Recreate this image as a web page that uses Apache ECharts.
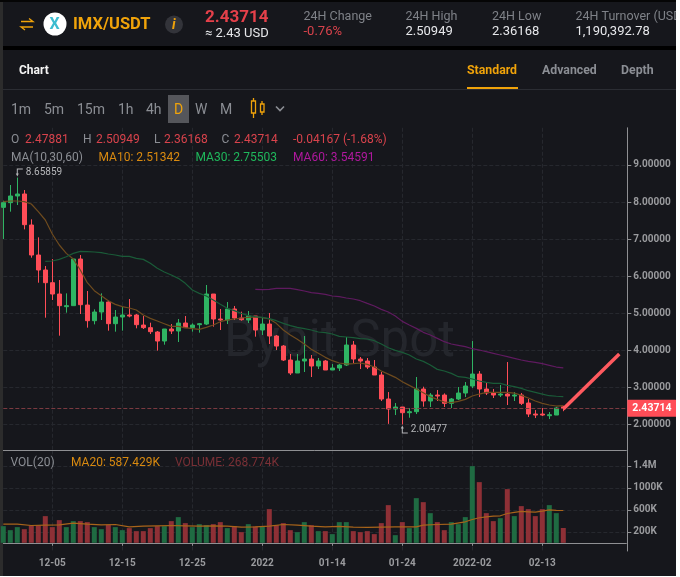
<!DOCTYPE html>
<html><head><meta charset="utf-8">
<style>html,body{margin:0;padding:0;background:#fff}#c{width:676px;height:576px}</style>
<script src="https://cdn.jsdelivr.net/npm/echarts@6/dist/echarts.min.js"></script>
</head><body><div id="c"></div>
<script>
const dates=['11-28','11-29','11-30','12-01','12-02','12-03','12-04','12-05','12-06','12-07','12-08','12-09','12-10','12-11','12-12','12-13','12-14','12-15','12-16','12-17','12-18','12-19','12-20','12-21','12-22','12-23','12-24','12-25','12-26','12-27','12-28','12-29','12-30','12-31','01-01','01-02','01-03','01-04','01-05','01-06','01-07','01-08','01-09','01-10','01-11','01-12','01-13','01-14','01-15','01-16','01-17','01-18','01-19','01-20','01-21','01-22','01-23','01-24','01-25','01-26','01-27','01-28','01-29','01-30','01-31','02-01','02-02','02-03','02-04','02-05','02-06','02-07','02-08','02-09','02-10','02-11','02-12','02-13','02-14','02-15','02-16','02-17','02-18','02-19','02-20','02-21','02-22','02-23','02-24','02-25'];
const tickLabels={7:'12-05',17:'12-15',27:'12-25',37:'2022',47:'01-14',57:'01-24',67:'2022-02',77:'02-13'};
// open, close, low, high
const candles=[
[7.856,7.982,7.003,8.036],[7.982,8.162,7.739,8.458],[8.162,8.216,7.919,8.65859],[8.216,7.389,7.263,8.323],[7.380,6.571,6.499,7.533],[6.571,6.167,5.825,7.048],[6.167,5.825,4.882,6.275],[5.825,5.520,5.358,6.463],[5.520,5.206,4.397,5.897],[5.179,5.206,5.017,5.538],
[5.206,6.463,5.206,6.463],[6.463,5.232,4.981,6.571],[5.223,4.801,4.613,5.601],[4.801,5.035,4.702,5.107],[5.035,5.304,4.819,5.538],[5.304,4.720,4.532,5.340],[4.720,4.900,4.505,5.089],[4.900,4.954,4.532,5.170],[4.954,4.927,4.891,5.385],[4.954,4.693,4.595,4.981],
[4.684,4.613,4.577,4.927],[4.613,4.505,4.442,4.747],[4.496,4.253,3.993,4.523],[4.253,4.577,4.154,4.577],[4.577,4.523,4.442,4.711],[4.523,4.738,4.226,4.846],[4.738,4.613,4.613,4.927],[4.613,4.684,4.505,4.729],[4.693,4.720,4.478,4.738],[4.711,5.520,4.684,5.763],
[5.520,4.846,4.640,5.520],[4.846,4.819,4.550,5.116],[4.819,5.116,4.711,5.304],[5.116,4.873,4.819,5.197],[4.873,4.828,4.801,5.044],[4.819,4.927,4.738,5.062],[4.927,4.550,4.370,4.927],[4.550,4.711,4.415,4.900],[4.711,4.388,4.172,5.008],[4.388,4.118,4.011,4.415],
[4.118,3.741,3.714,4.145],[3.741,3.391,3.337,3.903],[3.391,3.714,3.391,3.903],[3.714,3.768,3.418,4.388],[3.768,3.579,3.283,3.876],[3.579,3.714,3.498,3.795],[3.714,3.472,3.472,3.741],[3.472,3.525,3.472,3.633],[3.525,3.606,3.445,3.633],[3.606,4.145,3.579,4.361],
[4.145,3.768,3.660,4.253],[3.768,3.714,3.498,3.822],[3.714,3.552,3.498,3.795],[3.552,3.337,3.337,3.741],[3.337,2.690,2.636,3.418],[2.690,2.420,2.02,2.878],[2.420,2.474,2.258,2.582],[2.474,2.321,2.00477,2.474],[2.321,2.348,2.186,2.447],[2.348,2.959,2.285,3.283],
[2.959,2.636,2.483,3.022],[2.636,2.797,2.474,2.851],[2.797,2.770,2.636,2.932],[2.797,2.573,2.474,2.842],[2.573,2.690,2.447,2.717],[2.690,2.851,2.663,3.013],[2.851,3.040,2.743,3.148],[3.040,3.363,2.986,4.253],[3.363,2.959,2.743,3.444],[2.959,2.851,2.797,3.148],
[2.851,2.797,2.717,2.959],[2.797,2.824,2.743,3.067],[2.824,2.770,2.528,3.687],[2.770,2.797,2.636,2.878],[2.797,2.573,2.528,2.851],[2.582,2.285,2.204,2.690],[2.285,2.258,2.177,2.393],[2.285,2.258,2.232,2.447],[2.240,2.267,2.150,2.339],[2.258,2.447,2.258,2.474],
[2.47881,2.43714,2.36168,2.50949]];
const ma10=[8.009,8.027,8.027,8.009,7.946,7.739,7.515,7.137,6.841,6.616,6.463,6.167,5.825,5.610,5.475,5.340,5.241,5.179,5.143,5.089,4.954,4.864,4.792,4.720,4.648,4.648,4.613,4.586,4.568,4.622,4.684,4.774,4.819,4.846,4.873,4.891,4.900,4.882,4.846,4.729,4.550,4.415,4.298,4.172,4.029,3.921,3.813,3.723,3.660,3.633,3.642,3.660,3.624,3.552,3.445,3.360,3.274,3.157,3.058,2.959,2.860,2.752,2.681,2.609,2.591,2.627,2.681,2.770,2.824,2.869,2.869,2.869,2.869,2.851,2.788,2.717,2.636,2.573,2.528,2.501,2.513];
const ma30=[null,null,null,null,null,null,6.401,6.410,6.454,6.526,6.616,6.670,6.661,6.652,6.634,6.598,6.571,6.535,6.535,6.481,6.454,6.347,6.212,6.113,6.032,5.942,5.808,5.628,5.538,5.466,5.358,5.242,5.134,5.071,4.999,4.936,4.909,4.891,4.855,4.801,4.729,4.667,4.621,4.586,4.550,4.496,4.478,4.442,4.379,4.361,4.343,4.316,4.307,4.262,4.172,4.073,4.002,3.947,3.876,3.768,3.705,3.606,3.489,3.444,3.381,3.292,3.274,3.229,3.175,3.139,3.112,3.112,3.058,3.022,2.977,2.914,2.869,2.824,2.779,2.765,2.755];
const ma60=[null,null,null,null,null,null,null,null,null,null,null,null,null,null,null,null,null,null,null,null,null,null,null,null,null,null,null,null,null,null,null,null,null,null,null,null,5.646,5.637,5.646,5.673,5.673,5.673,5.637,5.601,5.556,5.538,5.511,5.466,5.448,5.412,5.385,5.340,5.268,5.197,5.107,5.035,4.927,4.783,4.684,4.594,4.487,4.415,4.325,4.235,4.172,4.136,4.100,4.046,4.010,3.965,3.921,3.876,3.831,3.786,3.741,3.705,3.678,3.642,3.597,3.552,3.530];
const arrowLine=[[80,2.42],[88,3.90]];
const lastPrice=2.43714;
const volumes=[303,230,285,248,315,321,485,285,412,285,394,394,376,285,248,327,285,230,267,212,212,267,303,303,394,467,358,285,339,321,339,376,267,303,194,339,297,303,612,321,358,230,194,376,321,212,212,158,376,376,212,194,212,158,358,685,139,376,267,812,739,539,376,230,376,339,467,1394,1103,539,394,448,976,485,667,612,485,612,685,539,268.774];
const volMaPts=[[0,339],[2,339],[4,315],[6,321],[8,327],[10,358],[12,339],[14,327],[16,333],[18,291],[20,303],[22,309],[24,315],[26,309],[28,303],[30,309],[32,303],[34,285],[36,291],[38,303],[40,333],[42,321],[44,303],[46,291],[48,297],[50,285],[52,279],[54,285],[56,291],[58,291],[59,291],[60,321],[62,333],[64,339],[66,382],[67,424],[68,455],[69,473],[70,485],[71,491],[72,533],[73,552],[74,570],[75,564],[76,558],[77,576],[78,600],[79,588],[80,587.429]];
const priceTicks=[2,3,4,5,6,7,8,9];
const volTicks=[200,600,1000,1400];
const volTickLabels={200:'200K',600:'600K',1000:'1000K',1400:'1.4M'};

const BG='#16171c',UP='#2fb463',DN='#ff4d57',VUP='#1f6b42',VDN='#8e3036',GRID='#26282e',AX='#8f9093',LBL='#9a9b9e';
const F='Roboto, "Noto Sans", sans-serif';
const isTick=i=>tickLabels[i]!==undefined;
function T(text,x,y,fill,size,weight,extra){return Object.assign({type:'text',x,y:y+2,style:{text,fill,font:(weight||'normal')+' '+size+'px '+F,textVerticalAlign:'middle',textAlign:'left'},silent:true,z:5},extra||{});}
function R(x,y,w,h,fill,extra){return Object.assign({type:'rect',shape:{x,y,width:w,height:h},style:{fill},silent:true,z:1},extra||{});}
function L(pts,stroke,w){return {type:'polyline',shape:{points:pts},style:{stroke:stroke,lineWidth:w,fill:null},silent:true,z:5};}
const ORG='#f0a30a',GR='#8b8e94';
const graphics=[
R(0,0,3,576,'#2c2c2c'),R(0,0,676,2,'#050505'),R(3,46,673,4,'#000'),R(3,89,673,1,'#2b2d33'),
R(467,87,51,2,ORG),R(168,95,21,28,'#55565b'),
// watermark
T('Bybit Spot',224,341,'#24262c',51,'normal',{z:0}),
// header
L([[21,21.5],[33,21.5],[29,18.5]],ORG,1.3),L([[33,27],[21,27],[25,30]],ORG,1.3),
{type:'circle',shape:{cx:55,cy:24,r:11.5},style:{fill:'#fff'},silent:true,z:4},
T('X',49.5,23,'#3bbcd0',16,'bold'),
T('IMX/USDT',73,23,ORG,16.5,'bold'),
{type:'circle',shape:{cx:174,cy:24.5,r:9},style:{fill:'#33343a'},silent:true,z:4},
T('i',172,23,ORG,14,'italic bold'),
T('2.43714',205,16,'#e5404a',17,'bold'),T('≈ 2.43 USD',205,31.5,'#e6e7ea',13),
T('24H Change',303.5,15,'#7f8288',12.5),T('-0.76%',303.5,30,'#d9434c',13),
T('24H High',405.5,15,'#7f8288',12.5),T('2.50949',405.5,30,'#e6e7ea',13),
T('24H Low',492,15,'#7f8288',12.5),T('2.36168',492,30,'#e6e7ea',13),
T('24H Turnover (USD',575.5,15,'#7f8288',12.5),T('1,190,392.78',575.5,30,'#e6e7ea',13),
T('Chart',19,69,'#f4f4f4',12,'bold'),T('Standard',467,69,ORG,12.3,'bold'),T('Advanced',542,69,GR,12.3,'bold'),T('Depth',621,69,GR,12.3,'bold'),
T('1m',11,108,GR,14),T('5m',44,108,GR,14),T('15m',77,108,GR,14),T('1h',118,108,GR,14),T('4h',146,108,GR,14),T('D',174,108,ORG,14),T('W',195,108,GR,14),T('M',220,108,GR,14),
{type:'rect',shape:{x:251.5,y:101,width:4,height:12},style:{stroke:ORG,fill:null,lineWidth:1.3},silent:true,z:5},
L([[253.5,98],[253.5,101]],ORG,1.3),L([[253.5,113],[253.5,118]],ORG,1.3),
{type:'rect',shape:{x:260.5,y:104,width:3.5,height:8},style:{stroke:ORG,fill:null,lineWidth:1.3},silent:true,z:5},
L([[262,101],[262,104]],ORG,1.3),L([[262,112],[262,115]],ORG,1.3),
L([[276,106.5],[280,110.5],[284,106.5]],GR,1.6),
// legend
T('O',11,138,'#8b8e94',12),T('2.47881',25,138,'#d9434c',12),T('H',83,138,'#8b8e94',12),T('2.50949',96,138,'#d9434c',12),T('L',154,138,'#8b8e94',12),T('2.36168',164,138,'#d9434c',12),T('C',221.5,138,'#8b8e94',12),T('2.43714',234,138,'#d9434c',12),T('-0.04167 (-1.68%)',293,138,'#d9434c',12),
T('MA(10,30,60)',11,156,'#8b8e94',12),T('MA10: 2.51342',98.5,156,'#d98a10',12),T('MA30: 2.75503',195.5,156,'#1fb85c',12),T('MA60: 3.54591',293,156,'#b0189e',12),
T('VOL(20)',10.5,461,'#8b8e94',12),T('MA20: 587.429K',71,461,'#d98a10',12),T('VOLUME: 268.774K',175,461,'#7a3036',12)
];
const HOOK_UP='path://M7,0 H1 V5 H0 L1.5,8 L3,5 H2 V1 H7 Z',HOOK_DN='path://M7,8 H1 V3 H0 L1.5,0 L3,3 H2 V7 H7 Z';
const extremeLabel=t=>({show:true,position:'right',distance:3,color:'#b5b6b9',fontSize:10,fontFamily:F,formatter:t});
const opt={
 animation:false,backgroundColor:BG,
 graphic:{elements:graphics},
 grid:[{left:3.3,width:623,top:127.8,height:322.6},{left:3.3,width:623,top:450.4,height:100.6}],
 xAxis:[
  {type:'category',gridIndex:0,data:dates,boundaryGap:false,axisLine:{lineStyle:{color:AX}},axisTick:{show:false},axisLabel:{show:false},splitLine:{show:true,interval:(i)=>isTick(i),lineStyle:{color:GRID,type:'dashed'}}},
  {type:'category',gridIndex:1,data:dates,boundaryGap:false,axisLine:{lineStyle:{color:AX}},axisTick:{show:true,length:3,interval:(i)=>isTick(i),lineStyle:{color:AX}},axisLabel:{interval:(i)=>isTick(i),formatter:(v,i)=>tickLabels[i]||'',color:LBL,fontSize:10,fontWeight:'bold',fontFamily:F,margin:7,hideOverlap:false},splitLine:{show:true,interval:(i)=>isTick(i),lineStyle:{color:GRID,type:'dashed'}}}
 ],
 yAxis:[
  {type:'value',gridIndex:0,position:'right',offset:1,min:1.305,max:10,axisLine:{show:true,lineStyle:{color:AX}},axisTick:{show:true,length:4,lineStyle:{color:AX},customValues:priceTicks},axisLabel:{customValues:priceTicks,formatter:v=>v.toFixed(5),color:LBL,fontSize:10,fontWeight:'bold',fontFamily:F,margin:6,padding:[3,0,0,0],showMinLabel:true,showMaxLabel:true},splitLine:{show:true,lineStyle:{color:GRID,type:'dashed'}}},
  {type:'value',gridIndex:1,position:'right',offset:1,min:-149,max:1680,axisLine:{show:true,lineStyle:{color:AX}},axisTick:{show:true,length:4,lineStyle:{color:AX},customValues:volTicks},axisLabel:{customValues:volTicks,formatter:v=>volTickLabels[v]||'',color:LBL,fontSize:10,fontWeight:'bold',fontFamily:F,margin:6,padding:[4,0,0,0]},splitLine:{show:true,lineStyle:{color:GRID,type:'dashed'}}}
 ],
 series:[
  {type:'candlestick',xAxisIndex:0,yAxisIndex:0,data:candles,barWidth:5,itemStyle:{color:UP,color0:DN,borderColor:UP,borderColor0:DN,borderWidth:1},
   markLine:{silent:true,symbol:'none',data:[{yAxis:lastPrice}],lineStyle:{color:'#7b3a40',type:'dashed',width:1},
    label:{show:true,position:'end',distance:1,formatter:lastPrice.toFixed(5),color:'#fff',backgroundColor:DN,fontWeight:'bold',fontSize:10.5,fontFamily:F,padding:[3,5],borderRadius:1}},
   markPoint:{silent:true,data:[
    {coord:[2,8.65859],symbol:HOOK_UP,symbolSize:[7,8],symbolOffset:[2,-5],itemStyle:{color:'#b5b6b9'},label:extremeLabel('8.65859')},
    {coord:[57,2.00477],symbol:HOOK_DN,symbolSize:[7,8],symbolOffset:[2,5],itemStyle:{color:'#b5b6b9'},label:extremeLabel('2.00477')}
   ]}},
  {name:'MA10',type:'line',xAxisIndex:0,yAxisIndex:0,data:ma10,showSymbol:false,lineStyle:{color:'#6e4b1e',width:1.2},z:3},
  {name:'MA30',type:'line',xAxisIndex:0,yAxisIndex:0,data:ma30,showSymbol:false,lineStyle:{color:'#1a5b38',width:1.2},z:3},
  {name:'MA60',type:'line',xAxisIndex:0,yAxisIndex:0,data:ma60,showSymbol:false,lineStyle:{color:'#5f1a5f',width:1.2},z:3},
  {name:'Arrow',type:'line',xAxisIndex:0,yAxisIndex:0,data:arrowLine,showSymbol:false,lineStyle:{color:'#ff5a5f',width:3.5},z:6},
  {name:'VOL',type:'bar',xAxisIndex:1,yAxisIndex:1,barWidth:5,data:volumes.map((v,i)=>({value:v,itemStyle:{color:candles[i][1]>=candles[i][0]?VUP:VDN}}))},
  {name:'VOLMA',type:'line',xAxisIndex:1,yAxisIndex:1,data:volMaPts,showSymbol:false,lineStyle:{color:'#a8641a',width:1.2},z:3}
 ]
};
echarts.init(document.getElementById('c')).setOption(opt);
</script></body></html>
